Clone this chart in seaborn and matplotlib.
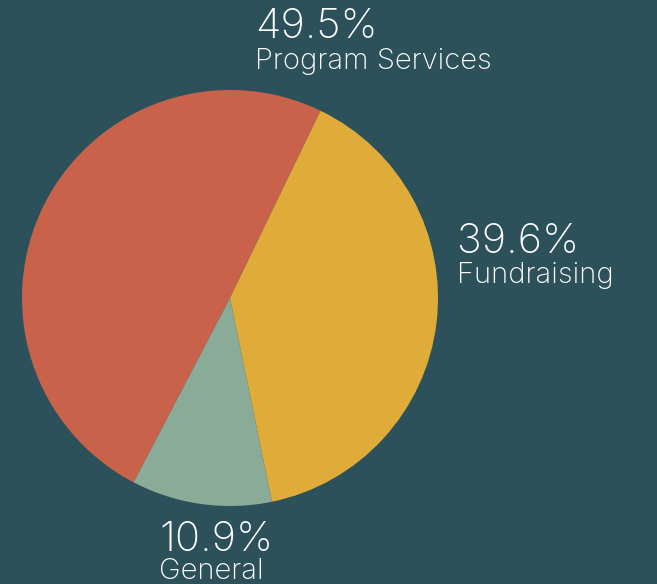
import matplotlib
matplotlib.use('Agg')
import matplotlib.pyplot as plt
import seaborn as sns

# expense breakdown shown in the pie
categories = ['Program Services', 'General', 'Fundraising']
shares = [49.5, 10.9, 39.6]

slice_colors = {
    'Program Services': '#c9624a',
    'General': '#8aab98',
    'Fundraising': '#dfac3a',
}
bg = '#2d515b'

sns.set_theme(style='white')
plt.rcParams['font.family'] = ['Inter', 'DejaVu Sans']

fig = plt.figure(figsize=(6.57, 5.84), dpi=100, facecolor=bg)
ax = fig.add_axes([0, 0, 1, 1])
ax.set_facecolor(bg)

ax.pie(shares, colors=[slice_colors[c] for c in categories], startangle=64.2,
       counterclock=True, wedgeprops={'linewidth': 0})

# pie radius 1 -> 208 px, centre at (230, 298) px
r = 208
ax.set_xlim(-230 / r, (657 - 230) / r)
ax.set_ylim(-(584 - 298) / r, 298 / r)
ax.set_aspect('equal')
ax.axis('off')

# label positions in pixels (left x, baseline of value, baseline of name)
label_pos = {
    'Program Services': (255, 38, 69),
    'Fundraising': (457, 253, 283),
    'General': (159, 551, 579),
}
for cat, val in zip(categories, shares):
    x, y1, y2 = label_pos[cat]
    fig.text(x / 657, 1 - y1 / 584, f'{val}%', color='white', fontsize=30,
             fontweight='light', va='baseline', ha='left')
    fig.text(x / 657, 1 - y2 / 584, cat, color='white', fontsize=21,
             fontweight='light', va='baseline', ha='left')

fig.savefig('out.png', dpi=100, facecolor=bg)
